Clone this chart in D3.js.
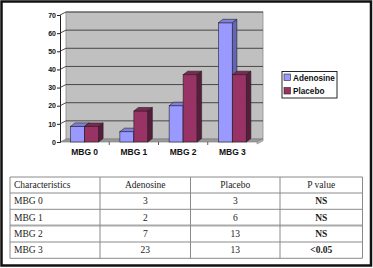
<!DOCTYPE html>
<html>
<head>
<meta charset="utf-8">
<script src="https://cdn.jsdelivr.net/npm/d3@7"></script>
<style>
  html, body { margin: 0; padding: 0; background: #fff; }
  svg { display: block; }
</style>
</head>
<body>
<div class="visHolder"></div>
<script>
// chart data (percent of patients per MBG grade)
const categories = ['MBG 0', 'MBG 1', 'MBG 2', 'MBG 3'];
const seriesNames = ['Adenosine', 'Placebo'];
const adenosine = [8.6, 5.7, 20, 65.7];
const placebo = [8.6, 17.1, 37.1, 37.1];
const yTicks = [0, 10, 20, 30, 40, 50, 60, 70];

// table data
const tableHeader = ['Characteristics', 'Adenosine', 'Placebo', 'P value'];
const adenosineCounts = [3, 2, 7, 23];
const placeboCounts = [3, 6, 13, 13];
const pValues = ['NS', 'NS', 'NS', '<0.05'];

const w = 373, h = 268;
const svg = d3.select('.visHolder').append('svg')
  .attr('width', w).attr('height', h);

// outer frame
svg.append('rect')
  .attr('x', 1.5).attr('y', 1.5)
  .attr('width', 369.5).attr('height', 264)
  .attr('fill', '#fff').attr('stroke', '#111').attr('stroke-width', 2.5);

const x0 = 60, x1 = 257;
const wallDx = 6, wallDy = -3;
const barDx = 4.5, barDy = -3.5;

const yScale = d3.scaleLinear().domain([0, 70]).range([142, 15]);
const xScale = d3.scaleBand().domain(categories).range([x0, x1]);
const xSub = d3.scaleBand().domain(seriesNames)
  .range([0, xScale.bandwidth()]).paddingOuter(0.76);

const colors = {
  Adenosine: {front: '#9999ff', top: '#7f7fe0', side: '#6464b8'},
  Placebo: {front: '#993366', top: '#7d2853', side: '#5a1c3c'}
};

// back wall
svg.append('rect')
  .attr('x', x0 + wallDx).attr('y', yScale(70) + wallDy)
  .attr('width', x1 - x0).attr('height', yScale(0) - yScale(70))
  .attr('fill', '#c0c0c0').attr('stroke', '#8c8c8c').attr('stroke-width', 0.8);

// floor
svg.append('polygon')
  .attr('points', [[x0, yScale(0)], [x1, yScale(0)], [x1 + wallDx, yScale(0) + wallDy], [x0 + wallDx, yScale(0) + wallDy]].join(' '))
  .attr('fill', '#9a9a9a').attr('stroke', '#777').attr('stroke-width', 0.6);
svg.append('polygon')
  .attr('points', [[x1, yScale(0)], [x1 + wallDx, yScale(0) + wallDy], [x1 + wallDx, yScale(0) + wallDy + 2], [x1, yScale(0) + 2]].join(' '))
  .attr('fill', '#bdbdbd').attr('stroke', '#777').attr('stroke-width', 0.5);

// gridlines on wall plus diagonal link to the axis
const grid = svg.append('g').attr('class', 'grid');
yTicks.filter(t => t > 0).forEach(t => {
  grid.append('path')
    .attr('d', `M${x0},${yScale(t)}L${x0 + wallDx},${yScale(t) + wallDy}H${x1 + wallDx}`)
    .attr('fill', 'none').attr('stroke', '#3a3a3a').attr('stroke-width', 0.9);
});

// y axis
const yAxis = d3.axisLeft(yScale).tickValues(yTicks).tickSize(3).tickPadding(1);
svg.append('g')
  .attr('id', 'y-axis')
  .attr('transform', `translate(${x0}, 0)`)
  .call(yAxis)
  .call(g => g.selectAll('path, line').attr('stroke', '#222'))
  .call(g => g.selectAll('text')
    .attr('font-family', 'Liberation Sans, Arial, sans-serif')
    .attr('font-weight', 'bold').attr('font-size', 7).attr('fill', '#111'));

// x axis ticks + labels
const xAxis = d3.axisBottom(xScale).tickSize(0).tickPadding(7);
svg.append('g')
  .attr('id', 'x-axis')
  .attr('transform', `translate(0, ${yScale(0)})`)
  .call(xAxis)
  .call(g => g.select('.domain').remove())
  .call(g => g.selectAll('text')
    .attr('font-family', 'Liberation Sans, Arial, sans-serif')
    .attr('font-weight', 'bold').attr('font-size', 8.5).attr('fill', '#111'));
svg.append('g').selectAll('line')
  .data(categories.slice(1))
  .enter().append('line')
  .attr('x1', d => xScale(d)).attr('x2', d => xScale(d))
  .attr('y1', yScale(0)).attr('y2', yScale(0) + 3)
  .attr('stroke', '#333').attr('stroke-width', 0.8);

// 3D bars
const barData = [];
categories.forEach((c, i) => {
  barData.push({cat: c, s: 'Adenosine', v: adenosine[i]});
  barData.push({cat: c, s: 'Placebo', v: placebo[i]});
});

const bars = svg.append('g').attr('class', 'bars')
  .selectAll('g').data(barData).enter().append('g');

bars.each(function(d) {
  const g = d3.select(this);
  const bx = xScale(d.cat) + xSub(d.s);
  const bw = xSub.bandwidth();
  const by = yScale(d.v), b0 = yScale(0);
  const col = colors[d.s];
  g.append('rect')
    .attr('x', bx).attr('y', by).attr('width', bw).attr('height', b0 - by)
    .attr('fill', col.front).attr('stroke', '#222').attr('stroke-width', 0.6);
  g.append('polygon')
    .attr('points', [[bx, by], [bx + bw, by], [bx + bw + barDx, by + barDy], [bx + barDx, by + barDy]].join(' '))
    .attr('fill', col.top).attr('stroke', '#222').attr('stroke-width', 0.6);
  g.append('polygon')
    .attr('points', [[bx + bw, by], [bx + bw + barDx, by + barDy], [bx + bw + barDx, b0 + barDy], [bx + bw, b0]].join(' '))
    .attr('fill', col.side).attr('stroke', '#222').attr('stroke-width', 0.6);
});

// legend
const legend = svg.append('g').attr('id', 'legend');
legend.append('rect')
  .attr('x', 282).attr('y', 71.5).attr('width', 55).attr('height', 26.5)
  .attr('fill', '#fff').attr('stroke', '#111').attr('stroke-width', 0.9);
const legendItem = legend.selectAll('.legend-label')
  .data(seriesNames).enter().append('g')
  .attr('class', 'legend-label')
  .attr('transform', (d, i) => `translate(284, ${74 + i * 13.5})`);
legendItem.append('rect')
  .attr('width', 6.5).attr('height', 6.5)
  .attr('fill', d => colors[d].front).attr('stroke', '#222').attr('stroke-width', 0.6);
legendItem.append('text')
  .attr('x', 9).attr('y', 6.6)
  .attr('font-family', 'Liberation Sans, Arial, sans-serif')
  .attr('font-weight', 'bold').attr('font-size', 8.2).attr('fill', '#111')
  .text(d => d);

// table
const colEdges = [10, 100, 190.5, 280, 362.5];
const rowEdges = [177, 193, 209.3, 225.5, 242, 258.3];
const rows = [tableHeader].concat(categories.map((c, i) =>
  [c, adenosineCounts[i], placeboCounts[i], pValues[i]]));

const table = svg.append('g').attr('id', 'table');
rowEdges.forEach((y, i) => {
  table.append('line')
    .attr('x1', colEdges[0]).attr('x2', colEdges[4])
    .attr('y1', y).attr('y2', y)
    .attr('stroke', i === 3 ? '#aaa' : '#8a8a8a')
    .attr('stroke-width', i === 3 ? 1.8 : 1);
});
colEdges.forEach(x => {
  table.append('line')
    .attr('x1', x).attr('x2', x)
    .attr('y1', rowEdges[0]).attr('y2', rowEdges[5])
    .attr('stroke', '#8a8a8a').attr('stroke-width', 1);
});
rows.forEach((r, ri) => {
  r.forEach((cell, ci) => {
    const cx = ci === 0 ? colEdges[0] + 4 : (colEdges[ci] + colEdges[ci + 1]) / 2;
    table.append('text')
      .attr('x', cx)
      .attr('y', (rowEdges[ri] + rowEdges[ri + 1]) / 2 + 3.2)
      .attr('text-anchor', ci === 0 ? 'start' : 'middle')
      .attr('font-family', 'Liberation Serif, Times New Roman, serif')
      .attr('font-size', 9.5)
      .attr('font-weight', ci === 3 && ri > 0 ? 'bold' : 'normal')
      .attr('fill', '#222')
      .text(cell);
  });
});
</script>
</body>
</html>
